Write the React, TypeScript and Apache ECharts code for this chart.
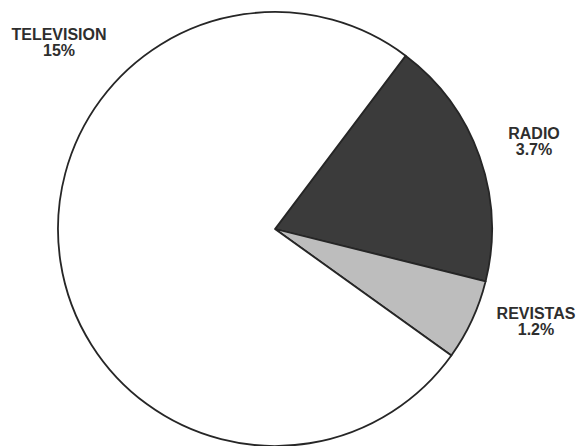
import React, { useEffect, useRef } from "react";
import * as echarts from "echarts";

const categories = ["RADIO", "REVISTAS", "TELEVISION"];
const values = [3.7, 1.2, 15];
const sliceColors = ["#3b3b3b", "#bdbdbd", "#ffffff"];
// label anchor positions (pixels) for each category
const labelSpots: [number, number][] = [
  [534, 141],
  [536, 321],
  [59, 42],
];

export default function App() {
  const ref = useRef<HTMLDivElement>(null);
  useEffect(() => {
    if (!ref.current) return;
    const chart = echarts.init(ref.current, null, { renderer: "svg" });
    chart.setOption({
      animation: false,
      backgroundColor: "#ffffff",
      series: [
        {
          type: "pie",
          center: [275, 229],
          radius: [0, 217],
          startAngle: 53,
          clockwise: true,
          silent: true,
          avoidLabelOverlap: false,
          data: categories.map((name, i) => ({
            name,
            value: values[i],
            itemStyle: { color: sliceColors[i] },
          })),
          itemStyle: {
            borderColor: "#262626",
            borderWidth: 1.8,
          },
          label: {
            show: true,
            position: "outside",
            formatter: "{b}\n{c}%",
            fontFamily: "Liberation Sans, Arial, sans-serif",
            fontWeight: "bold",
            fontSize: 16,
            lineHeight: 16,
            color: "#2e2e2e",
            align: "center",
          },
          labelLine: { show: false },
          labelLayout: (params: any) => {
            const p = labelSpots[params.dataIndex];
            return { x: p[0], y: p[1], align: "center", verticalAlign: "middle" };
          },
          emphasis: { disabled: true },
        },
      ],
    });
    return () => chart.dispose();
  }, []);
  return (
    <div
      ref={ref}
      style={{ position: "fixed", left: 0, top: 0, width: 580, height: 446 }}
    />
  );
}
